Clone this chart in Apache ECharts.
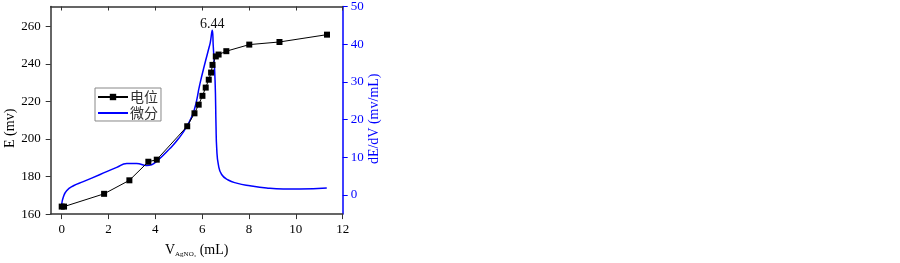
<!DOCTYPE html>
<html>
<head>
<meta charset="utf-8">
<script src="https://cdn.jsdelivr.net/npm/echarts@6/dist/echarts.min.js"></script>
<style>
html,body{margin:0;padding:0;background:#fff;}
#c{width:900px;height:263px;}
</style>
</head>
<body>
<div id="c"></div>
<script>
// Potential (E, mV) vs titrant volume (mL)
const potV = [0, 0.1, 1.81, 2.89, 3.70, 4.06, 5.36, 5.67, 5.85, 6.01, 6.15, 6.28, 6.38, 6.44, 6.58, 6.70, 7.03, 8.01, 9.30, 11.33];
const potE = [164, 164, 170.8, 178, 187.9, 189, 206.8, 213.7, 218.3, 223, 227.4, 231.6, 235.4, 239.5, 244, 245, 246.8, 250.3, 251.7, 255.6];
// Derivative dE/dV (mV/mL)
const diffV = [0, 0.07, 0.21, 0.5, 0.92, 1.64, 2.35, 2.78, 3.2, 3.63, 3.84, 4.06, 4.62, 5.0, 5.34, 5.65, 5.9, 6.12, 6.3, 6.35, 6.43, 6.47, 6.55, 6.59, 6.62, 6.69, 6.83, 7.11, 7.47, 8.04, 8.75, 9.46, 10.17, 11.32];
const diffD = [-2.5, -0.6, 1.1, 2.4, 3.5, 5.4, 7.3, 8.3, 8.3, 7.8, 8.0, 8.9, 12.3, 15.0, 18.2, 22.3, 29.4, 35, 39.3, 40.6, 43.7, 39.7, 30.3, 18.3, 12.3, 8.0, 5.4, 3.94, 3.1, 2.4, 1.8, 1.55, 1.55, 1.8];
const peakIndex = 20;
const peakLabel = '6.44';
const xTicks = [0, 2, 4, 6, 8, 10, 12];
const eTicks = [160, 180, 200, 220, 240, 260];
const dTicks = [0, 10, 20, 30, 40, 50];
const seriesNames = ['电位', '微分'];

const serif = 'Liberation Serif';
const axisColor = '#333';
const blue = '#0000ff';

const potData = potV.map((v, i) => [v, potE[i]]);
const diffData = diffV.map((v, i) => [v, diffD[i]]);

const chart = echarts.init(document.getElementById('c'), null, {renderer: 'canvas'});
chart.setOption({
  animation: false,
  backgroundColor: '#fff',
  grid: {left: 50.7, right: 557.3, top: 5.7, bottom: 42, containLabel: false},
  legend: {
    orient: 'vertical', left: 95, top: 88,
    data: [{name: seriesNames[0]}, {name: seriesNames[1], itemStyle: {opacity: 0}}],
    itemWidth: 30, itemHeight: 8, itemGap: 2,
    padding: [2, 3, 1, 2],
    borderColor: '#888', borderWidth: 1,
    textStyle: {fontFamily: 'Noto Sans CJK SC', fontSize: 14, color: '#333', padding: [0, 0, 0, -3]}
  },
  xAxis: [{
    type: 'value', min: -0.47, max: 12, position: 'bottom',
    axisLine: {show: true, onZero: false, lineStyle: {color: axisColor, width: 1.5}},
    axisTick: {show: true, inside: false, length: 5, customValues: xTicks, lineStyle: {color: axisColor}},
    axisLabel: {customValues: xTicks, margin: 9, fontFamily: serif, fontSize: 13, color: '#000'},
    splitLine: {show: false},
    name: '{v|V}{sub|AgNO₃}{v| (mL)}', nameLocation: 'middle', nameGap: 20,
    nameTextStyle: {rich: {
      v: {fontFamily: serif, fontSize: 14, color: '#000', lineHeight: 15, verticalAlign: 'top'},
      sub: {fontFamily: serif, fontSize: 7, color: '#000', lineHeight: 8, padding: [10, 0, 0, 0], verticalAlign: 'bottom'}
    }}
  }, {
    type: 'value', min: -0.47, max: 12, position: 'top',
    axisLine: {show: true, onZero: false, lineStyle: {color: axisColor, width: 1.5}},
    axisTick: {show: true, inside: true, length: 4, customValues: xTicks, lineStyle: {color: axisColor}},
    axisLabel: {show: false},
    splitLine: {show: false}
  }],
  yAxis: [{
    type: 'value', min: 160, max: 270.6, position: 'left',
    axisLine: {show: true, onZero: false, lineStyle: {color: axisColor, width: 1.5}},
    axisTick: {show: true, inside: false, length: 5, customValues: eTicks, lineStyle: {color: axisColor}},
    axisLabel: {customValues: eTicks, margin: 10, fontFamily: serif, fontSize: 13, color: '#000'},
    splitLine: {show: false},
    name: 'E (mv)', nameLocation: 'middle', nameGap: 33,
    nameTextStyle: {fontFamily: serif, fontSize: 14, color: '#000', padding: [0, 36, 0, 0]}
  }, {
    type: 'value', min: -5.12, max: 50, position: 'right',
    axisLine: {show: true, onZero: false, lineStyle: {color: blue, width: 1.5}},
    axisTick: {show: true, inside: false, length: 5, customValues: dTicks, lineStyle: {color: blue}},
    axisLabel: {customValues: dTicks, margin: 8, fontFamily: serif, fontSize: 13, color: blue},
    splitLine: {show: false},
    name: 'dE/dV (mv/mL)', nameLocation: 'middle', nameGap: 23,
    nameTextStyle: {fontFamily: serif, fontSize: 14, color: blue, padding: [0, 17, 0, 0]}
  }],
  series: [{
    name: seriesNames[0], type: 'line', xAxisIndex: 0, yAxisIndex: 0,
    data: potData,
    symbol: 'rect', symbolSize: 6,
    lineStyle: {color: '#000', width: 1},
    itemStyle: {color: '#000'},
    z: 3
  }, {
    name: seriesNames[1], type: 'line', xAxisIndex: 0, yAxisIndex: 1,
    data: diffData,
    smooth: 0.5,
    showSymbol: false,
    lineStyle: {color: blue, width: 1.5},
    itemStyle: {color: blue},
    markPoint: {
      symbol: 'circle', symbolSize: 0,
      data: [{coord: [diffV[peakIndex], diffD[peakIndex]], value: peakLabel}],
      label: {show: true, position: 'top', distance: -1, formatter: peakLabel,
        fontFamily: serif, fontSize: 14, color: '#111'}
    },
    z: 2
  }]
});
</script>
</body>
</html>
